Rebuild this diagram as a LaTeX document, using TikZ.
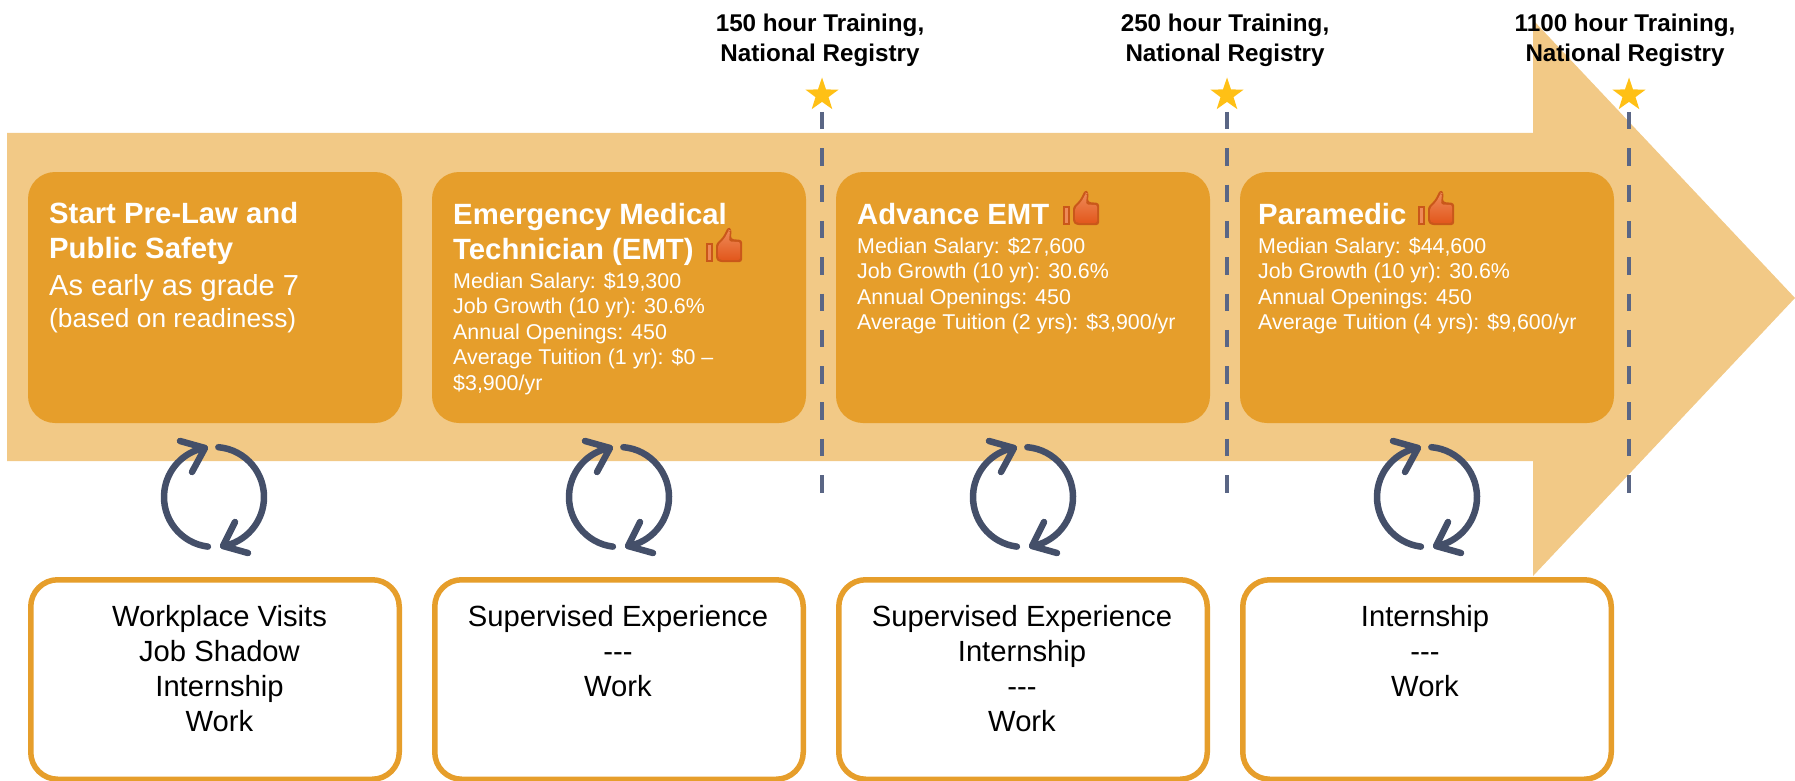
\documentclass[tikz,border=0pt]{standalone}
\usepackage{fontspec}
\setmainfont{Liberation Sans}
\usetikzlibrary{shapes.geometric}
\definecolor{arrowfill}{HTML}{F2C986}
\definecolor{boxorange}{HTML}{E69E2B}
\definecolor{slatedash}{HTML}{5A6685}
\definecolor{slateicon}{HTML}{444F69}
\definecolor{starcol}{HTML}{FFC015}
\definecolor{thumbedge}{HTML}{C9571A}
\definecolor{thumbtop}{HTML}{EE8A58}
\definecolor{thumbbot}{HTML}{E2571C}
\newcommand{\titlef}{\bfseries\fontsize{29.3}{35}\selectfont}
\newcommand{\bodyf}{\mdseries\fontsize{21.4}{25.5}\selectfont}
\newcommand{\midf}{\mdseries\fontsize{29}{32}\selectfont}
\newcommand{\smallmidf}{\mdseries\fontsize{26.3}{32}\selectfont}
\newcommand{\lowf}{\mdseries\fontsize{29.2}{35}\selectfont}
\newcommand{\topf}{\bfseries\fontsize{24.2}{30}\selectfont}
\tikzset{
  x=1pt,y=-1pt,
  solidbox/.style={draw=none,fill=boxorange,rounded corners=27pt,minimum width=374pt,minimum height=251pt},
  framebox/.style={draw=boxorange,line width=5.5pt,fill=white,rounded corners=27pt,minimum width=368.5pt,minimum height=199.5pt},
  headtext/.style={anchor=north west,inner sep=0pt,align=left,text=white},
  lowtext/.style={anchor=north,inner sep=0pt,align=center,text=black,font=\lowf},
  toptext/.style={anchor=north,inner sep=0pt,align=center,text=black,font=\topf},
  stagestar/.style={star,star points=5,star point ratio=2.55,fill=starcol,draw=none,minimum size=35pt,inner sep=0pt},
  gate/.style={draw=slatedash,line width=4pt,dash pattern=on 17.5pt off 18.8pt},
  cyc/.style={draw=slateicon,line width=6.5pt,line cap=round,line join=round},
  pics/thumbicon/.style={code={
    \path[fill=thumbedge] (0,16) rectangle (6.5,35);
    \path[fill=thumbedge,rounded corners=2.5pt] (10,17) -- (17,10) -- (22,0) -- (25.5,2) -- (25,12) -- (36,13) -- (36,35) -- (13,35) -- (10,32) -- cycle;
    \path[top color=thumbtop,bottom color=thumbbot,rounded corners=2pt] (12,18) -- (18.5,11.5) -- (23,3) -- (24,3.5) -- (23,14.5) -- (34,15) -- (34,33) -- (14,33) -- (12,31) -- cycle;
    \path[fill=thumbtop] (1.5,18) rectangle (5,33);
  }}
}
\newcommand{\cycleat}[2]{%
  \begin{scope}[shift={(#1,#2)}]
  \draw[cyc] (-85:50) arc[start angle=-85,end angle=79,radius=50];
  \draw[cyc] (97:50) arc[start angle=97,end angle=259,radius=50];
  \draw[cyc] (-34,-56) -- (-9,-49) -- (-22,-25);
  \draw[cyc] (34,56) -- (9,49) -- (21,25);
  \end{scope}
}
\begin{document}
\begin{tikzpicture}
\useasboundingbox (0,0) rectangle (1795,781);
% big arrow
\path[fill=arrowfill] (7,133) -- (1533,133) -- (1533,20) -- (1795,298) -- (1533,576) -- (1533,461) -- (7,461) -- cycle;
% solid boxes
\node[solidbox] (b1) at (215,297.5) {};
\node[solidbox] (b2) at (619,297.5) {};
\node[solidbox] (b3) at (1023,297.5) {};
\node[solidbox] (b4) at (1427,297.5) {};
% white boxes
\node[framebox] (w1) at (215,679.5) {};
\node[framebox] (w2) at (619,679.5) {};
\node[framebox] (w3) at (1023,679.5) {};
\node[framebox] (w4) at (1427,679.5) {};
% gates
\coordinate (g1a) at (822,112); \coordinate (g1b) at (822,494);
\coordinate (g2a) at (1227,112); \coordinate (g2b) at (1227,494);
\coordinate (g3a) at (1629,112); \coordinate (g3b) at (1629,494);
\draw[gate] (g1a) -- (g1b);
\draw[gate] (g2a) -- (g2b);
\draw[gate] (g3a) -- (g3b);
\node[stagestar] (s1) at (822,95) {};
\node[stagestar] (s2) at (1227,95) {};
\node[stagestar] (s3) at (1629,95) {};
% top labels
\node[toptext] (t1) at (820,14) {150 hour Training,\\National Registry};
\node[toptext] (t2) at (1225,14) {250 hour Training,\\National Registry};
\node[toptext] (t3) at (1625,14) {1100 hour Training,\\National Registry};
% headings
\node[headtext,font=\titlef] (h1) at (49,201.6) {Start Pre-Law and\\Public Safety};
\node[headtext,font=\midf] (h1a) at (49,274) {As early as grade 7};
\node[headtext,font=\smallmidf] (h1b) at (49,308) {(based on readiness)};
\node[headtext,font=\titlef] (h2) at (453,202.6) {Emergency Medical\\Technician (EMT)};
\node[headtext,font=\bodyf] (h2a) at (453,272.4) {Median Salary: \$19,300\\Job Growth (10 yr): 30.6\%\\Annual Openings: 450\\Average Tuition (1 yr): \$0 –\\\$3,900/yr};
\node[headtext,font=\titlef] (h3) at (857,203) {Advance EMT};
\node[headtext,font=\bodyf] (h3a) at (857,237.4) {Median Salary: \$27,600\\Job Growth (10 yr): 30.6\%\\Annual Openings: 450\\Average Tuition (2 yrs): \$3,900/yr};
\node[headtext,font=\titlef] (h4) at (1258,203) {Paramedic};
\node[headtext,font=\bodyf] (h4a) at (1258,237.4) {Median Salary: \$44,600\\Job Growth (10 yr): 30.6\%\\Annual Openings: 450\\Average Tuition (4 yrs): \$9,600/yr};
% thumbs
\pic at (706,227) {thumbicon};
\pic at (1063,190) {thumbicon};
\pic at (1418,190) {thumbicon};
% cycle icons
\cycleat{214}{497}
\cycleat{619}{497}
\cycleat{1023}{497}
\cycleat{1427}{497}
% lower labels
\node[lowtext] (l1) at (219.5,604.7) {Workplace Visits\\Job Shadow\\Internship\\Work};
\node[lowtext] (l2) at (618,604.7) {Supervised Experience\\-{}-{}-\\Work};
\node[lowtext] (l3) at (1022,604.7) {Supervised Experience\\Internship\\-{}-{}-\\Work};
\node[lowtext] (l4) at (1425,604.7) {Internship\\-{}-{}-\\Work};
\end{tikzpicture}
\end{document}
